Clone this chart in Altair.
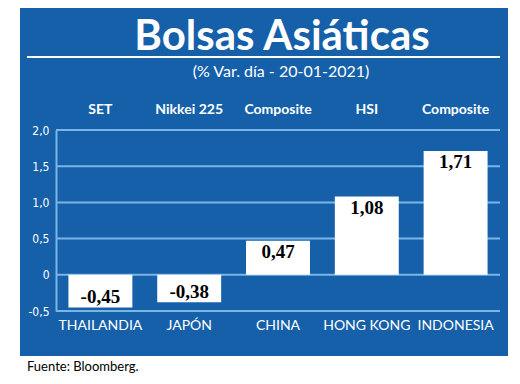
import altair as alt
import pandas as pd

countries = ["THAILANDIA", "JAPÓN", "CHINA", "HONG KONG", "INDONESIA"]
indices = ["SET", "Nikkei 225", "Composite", "HSI", "Composite"]
values = [-0.45, -0.38, 0.47, 1.08, 1.71]
labels = ["-0,45", "-0,38", "0,47", "1,08", "1,71"]
y_ticks = [-0.5, 0.0, 0.5, 1.0, 1.5, 2.0]

df = pd.DataFrame({"country": countries, "index": indices, "value": values, "label": labels})
grid_df = pd.DataFrame({"value": y_ticks})

BLUE = "#1660aa"
GRID = "#79b6e6"
NARROW = "'Liberation Sans Narrow', 'DejaVu Sans Condensed', sans-serif"

x_enc = alt.X(
    "country:N", sort=countries,
    scale=alt.Scale(paddingInner=0.28, paddingOuter=0.14),
    axis=alt.Axis(title=None, orient="bottom", domain=False, ticks=False, labelAngle=0,
                  labelColor="white", labelFont="Lato", labelFontSize=14, labelPadding=7,
                  zindex=1),
)
y_enc = alt.Y(
    "value:Q",
    scale=alt.Scale(domain=[-0.5, 2.0], nice=False, zero=False),
    axis=alt.Axis(title=None, values=y_ticks, grid=False, ticks=False,
                  domain=True, domainColor=GRID, domainWidth=2,
                  labelColor="white", labelFont=NARROW, labelFontSize=12, labelPadding=7,
                  labelExpr="datum.value == 0 ? '0' : (datum.value < 0 ? '-' : '') + replace(format(abs(datum.value), '.1f'), '.', ',')",
                  zindex=1),
)

one = alt.Data(values=[{}])

panel = alt.Chart(one).mark_rect(color=BLUE).encode(
    x=alt.value(-36), x2=alt.value(452), y=alt.value(-122), y2=alt.value(226)
)
title = alt.Chart(one).mark_text(
    text="Bolsas Asiáticas", font="Lato", fontWeight="bold", fontSize=42, color="white",
    align="center", baseline="alphabetic"
).encode(x=alt.value(226), y=alt.value(-80))
underline = alt.Chart(one).mark_rule(color="white", strokeWidth=2).encode(
    x=alt.value(-29), x2=alt.value(444), y=alt.value(-73)
)
subtitle = alt.Chart(one).mark_text(
    text="(% Var. día - 20-01-2021)", font="Lato", fontSize=16, color="white",
    align="center", baseline="middle"
).encode(x=alt.value(225), y=alt.value(-58))
footer = alt.Chart(one).mark_text(
    text="Fuente: Bloomberg.", font="Lato", fontSize=13, color="black",
    align="left", baseline="middle"
).encode(x=alt.value(-29), y=alt.value(237))

grid = alt.Chart(grid_df).mark_rule(color=GRID, strokeWidth=2).encode(y=y_enc)

base = alt.Chart(df)
bars = base.mark_bar(color="white").encode(x=x_enc, y=y_enc)
pos_lbl = base.transform_filter("datum.value > 0").mark_text(
    font="Liberation Serif", fontWeight="bold", fontSize=19, color="black",
    baseline="middle", dy=11
).encode(x=x_enc, y=y_enc, text="label:N")
neg_lbl = base.transform_filter("datum.value < 0").mark_text(
    font="Liberation Serif", fontWeight="bold", fontSize=19, color="black",
    baseline="middle", dy=-10
).encode(x=x_enc, y=y_enc, text="label:N")
idx_lbl = base.mark_text(
    font="Lato", fontWeight="bold", fontSize=14, color="white", baseline="middle"
).encode(x=x_enc, y=alt.value(-20), text="index:N")

chart = alt.layer(
    panel, title, underline, subtitle, footer, grid, bars, pos_lbl, neg_lbl, idx_lbl
).properties(
    width=444, height=181, autosize="none",
    padding={"left": 48, "top": 122, "right": 8, "bottom": 66},
    background="white",
).configure_view(strokeWidth=0)

chart.save("out.html", embed_options={"renderer": "svg", "actions": False})
